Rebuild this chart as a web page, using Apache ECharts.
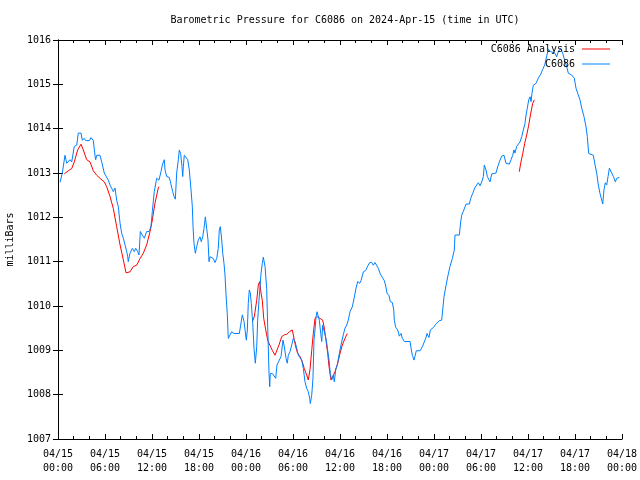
<!DOCTYPE html>
<html>
<head>
<meta charset="utf-8">
<script src="https://cdn.jsdelivr.net/npm/echarts@6/dist/echarts.min.js"></script>
<style>html,body{margin:0;padding:0;background:#fff}#c{width:640px;height:480px}</style>
</head>
<body>
<div id="c"></div>
<script>
const titleText = 'Barometric Pressure for C6086 on 2024-Apr-15 (time in UTC)';
const yName = 'milliBars';
const stationName = 'C6086';
const analysisName = 'C6086 Analysis';

// hours since 2024-04-15 00:00 UTC
const blueHours = [0.26,0.55,0.89,1.11,1.53,1.75,2.08,2.39,2.59,2.94,3.1,3.36,3.54,4.0,4.21,4.51,4.72,4.81,4.94,5.36,5.58,5.91,6.09,6.42,6.64,6.86,7.06,7.28,7.49,7.7,7.92,8.13,8.34,8.55,8.77,8.9,8.97,9.19,9.49,9.74,9.92,10.17,10.34,10.51,10.76,11.02,11.32,11.62,11.87,12.04,12.29,12.6,12.89,13.15,13.32,13.44,13.57,13.66,13.88,14.21,14.39,14.64,14.81,14.98,15.15,15.36,15.49,15.66,15.83,15.92,16.0,16.12,16.34,16.56,16.76,16.98,17.15,17.24,17.36,17.53,17.71,17.91,18.13,18.29,18.47,18.64,18.81,18.98,19.15,19.28,19.4,19.62,19.83,20.04,20.26,20.46,20.59,20.72,20.9,21.03,21.19,21.32,21.45,21.61,21.74,21.96,22.18,22.3,22.47,23.15,23.32,23.53,23.75,23.91,24.04,24.17,24.29,24.42,24.55,24.68,24.86,25.02,25.19,25.37,25.49,25.66,25.92,26.08,26.21,26.43,26.64,26.77,26.94,27.03,27.1,27.36,27.61,27.79,27.96,28.21,28.47,28.72,28.89,29.11,29.27,29.4,29.62,29.84,30.04,30.26,30.47,30.68,30.9,31.11,31.32,31.53,31.75,31.95,32.13,32.21,32.39,32.55,32.68,32.81,32.94,33.07,33.23,33.36,33.54,33.67,33.79,33.96,34.09,34.25,34.43,34.6,34.76,34.94,35.15,35.27,35.45,35.66,35.87,36.13,36.42,36.64,36.86,37.06,37.28,37.57,37.83,38.04,38.26,38.52,38.68,38.98,39.28,39.54,39.79,40.05,40.25,40.47,40.72,40.89,41.15,41.4,41.66,41.84,42.0,42.26,42.42,42.68,42.86,42.93,43.11,43.37,43.57,43.79,43.96,44.21,44.94,45.07,45.23,45.45,45.58,45.74,46.22,46.51,46.76,46.94,47.11,47.36,47.53,47.78,47.96,48.22,48.47,48.68,48.98,49.11,49.28,49.5,49.75,50.04,50.34,50.59,50.68,51.23,51.41,51.54,51.74,51.96,52.09,52.51,52.69,52.94,53.2,53.45,53.66,53.88,54.09,54.3,54.42,54.64,54.81,55.15,55.37,55.57,55.92,56.13,56.34,56.64,56.94,57.19,57.62,57.83,58.05,58.21,58.34,58.55,58.76,58.98,59.2,59.4,59.62,59.75,59.91,60.09,60.26,60.39,60.51,60.68,61.02,61.32,61.63,61.88,62.14,62.39,62.6,62.9,63.15,63.45,63.66,63.87,64.18,64.43,64.73,64.94,65.15,65.58,65.91,66.13,66.42,66.64,66.86,67.15,67.41,67.57,67.75,68.34,68.56,68.77,68.98,69.19,69.41,69.54,69.7,69.87,70.05,70.22,70.39,70.64,70.9,71.15,71.33,71.66];
const blueValues = [1012.79,1013.0,1013.4,1013.22,1013.3,1013.25,1013.6,1013.63,1013.9,1013.9,1013.74,1013.78,1013.73,1013.73,1013.8,1013.73,1013.4,1013.3,1013.4,1013.4,1013.25,1013.0,1013.0,1012.84,1012.73,1012.69,1012.58,1012.66,1012.39,1012.24,1011.87,1011.64,1011.53,1011.38,1011.23,1011.11,1011.0,1011.19,1011.3,1011.23,1011.3,1011.23,1011.15,1011.68,1011.6,1011.53,1011.68,1011.68,1011.79,1012.13,1012.58,1012.88,1012.84,1013.03,1013.18,1013.25,1013.3,1013.07,1012.92,1012.9,1012.77,1012.58,1012.47,1012.41,1013.0,1013.3,1013.52,1013.44,1013.14,1012.92,1013.14,1013.4,1013.37,1013.3,1013.07,1012.62,1012.24,1011.79,1011.41,1011.19,1011.34,1011.49,1011.56,1011.45,1011.56,1011.75,1012.01,1011.75,1011.49,1011.0,1011.11,1011.1,1011.07,1010.98,1011.07,1011.3,1011.71,1011.79,1011.49,1011.19,1010.96,1010.7,1010.25,1009.83,1009.27,1009.27,1009.42,1009.46,1009.38,1009.38,1009.57,1009.8,1009.65,1009.42,1009.23,1009.46,1010.06,1010.36,1010.29,1010.06,1009.61,1009.05,1008.71,1009.08,1009.68,1010.13,1010.74,1010.96,1011.1,1010.89,1010.4,1009.53,1008.48,1008.18,1008.48,1008.48,1008.44,1008.37,1008.67,1008.67,1008.86,1009.23,1009.08,1008.82,1008.71,1008.89,1008.97,1009.12,1009.27,1009.2,1009.05,1008.89,1008.86,1008.78,1008.59,1008.29,1008.14,1008.07,1007.92,1007.8,1007.99,1008.37,1009.23,1009.46,1009.76,1009.87,1009.87,1009.68,1009.38,1009.2,1009.57,1009.61,1009.35,1009.23,1009.0,1008.78,1008.48,1008.33,1008.44,1008.29,1008.56,1008.67,1008.89,1009.12,1009.35,1009.5,1009.57,1009.68,1009.87,1009.98,1010.2,1010.4,1010.55,1010.51,1010.57,1010.77,1010.8,1010.9,1010.98,1010.98,1010.92,1010.98,1010.98,1010.85,1010.72,1010.65,1010.57,1010.45,1010.29,1010.23,1010.1,1010.08,1009.91,1009.68,1009.52,1009.46,1009.32,1009.38,1009.27,1009.2,1009.2,1009.05,1008.89,1008.78,1008.87,1008.99,1008.99,1009.08,1009.12,1009.27,1009.38,1009.29,1009.46,1009.42,1009.52,1009.59,1009.61,1009.67,1009.68,1009.91,1010.21,1010.43,1010.66,1010.89,1011.07,1011.26,1011.6,1011.6,1011.9,1012.05,1012.13,1012.24,1012.3,1012.3,1012.43,1012.54,1012.66,1012.73,1012.78,1012.71,1012.8,1012.92,1013.18,1013.07,1012.92,1012.8,1012.98,1013.0,1013.0,1013.14,1013.25,1013.38,1013.4,1013.22,1013.2,1013.3,1013.4,1013.52,1013.45,1013.6,1013.63,1013.7,1013.82,1013.97,1014.12,1014.31,1014.46,1014.65,1014.72,1014.61,1014.8,1014.98,1015.02,1015.14,1015.23,1015.34,1015.44,1015.64,1015.79,1015.74,1015.77,1015.7,1015.62,1015.74,1015.81,1015.7,1015.51,1015.4,1015.25,1015.21,1015.14,1014.91,1014.76,1014.65,1014.46,1014.27,1014.04,1013.82,1013.44,1013.4,1013.18,1013.0,1012.73,1012.54,1012.39,1012.3,1012.62,1012.78,1012.73,1012.92,1013.11,1013.11,1012.92,1012.8,1012.88,1012.9];

const red1Hours = [0.8,1.31,1.75,2.08,2.51,2.94,3.23,3.66,4.09,4.51,4.94,5.49,5.91,6.22,6.64,7.06,7.49,7.92,8.34,8.68,9.19,9.61,10.05,10.47,10.89,11.32,11.75,12.04,12.38,12.8,12.89];
const red1Values = [1012.98,1013.05,1013.1,1013.25,1013.52,1013.65,1013.52,1013.3,1013.25,1013.05,1012.95,1012.86,1012.8,1012.69,1012.47,1012.2,1011.79,1011.38,1011.04,1010.75,1010.77,1010.89,1010.92,1011.07,1011.19,1011.38,1011.68,1011.94,1012.32,1012.66,1012.69];
const red2Hours = [24.82,25.06,25.37,25.57,25.75,25.92,26.08,26.26,26.52,26.77,27.03,27.36,27.7,27.92,28.21,28.56,28.89,29.2,29.53,29.91,30.13,30.34,30.6,30.9,31.19,31.44,31.75,31.95,32.17,32.39,32.59,32.81,33.07,33.45,33.79,34.0,34.21,34.43,34.6,34.85,35.07,35.36,35.71,36.0,36.3,36.64,36.93];
const red2Values = [1009.65,1009.76,1010.13,1010.47,1010.55,1010.29,1010.13,1009.72,1009.46,1009.23,1009.12,1009.0,1008.89,1008.93,1009.12,1009.31,1009.35,1009.36,1009.42,1009.46,1009.27,1009.08,1008.93,1008.86,1008.74,1008.59,1008.44,1008.33,1008.56,1009.0,1009.38,1009.72,1009.76,1009.72,1009.68,1009.5,1009.23,1008.93,1008.63,1008.33,1008.4,1008.52,1008.71,1008.93,1009.12,1009.27,1009.38];
const red3Hours = [58.89,59.07,59.33,59.58,59.84,60.09,60.35,60.6,60.81];
const red3Values = [1013.03,1013.22,1013.44,1013.67,1013.86,1014.08,1014.35,1014.57,1014.65];

const xMin = 0, xMax = 72, xStep = 6;
const yMin = 1007, yMax = 1016, yStep = 1;
const startDay = 15;

function zip(a, b) { return a.map((v, i) => [v, b[i]]); }
function xLabel(h) {
  const d = startDay + Math.floor(h / 24);
  const hh = h % 24;
  return '04/' + String(d).padStart(2, '0') + '\n' + String(hh).padStart(2, '0') + ':00';
}

const FONT = 'DejaVu Sans Mono';
const blue = '#0080ff', red = '#ff0000';
const chart = echarts.init(document.getElementById('c'), null, { renderer: 'canvas' });
const lineSeries = (name, data, color) => ({
  name, type: 'line', data, showSymbol: false, symbol: 'none',
  lineStyle: { color, width: 1 }, itemStyle: { color },
  xAxisIndex: 0, yAxisIndex: 0, animation: false, z: name === stationName ? 3 : 2
});
const axisCommon = {
  axisLine: { show: true, lineStyle: { color: '#000', width: 1 } },
  splitLine: { show: false }
};
chart.setOption({
  animation: false,
  backgroundColor: '#fff',
  textStyle: { fontFamily: FONT, color: '#000' },
  title: {
    text: titleText, left: 340, top: 10, textAlign: 'center',
    textStyle: { fontFamily: FONT, fontSize: 10, fontWeight: 'normal', color: '#000' }
  },
  legend: [
    { data: [analysisName], right: 30, top: 44, orient: 'vertical', align: 'right',
      icon: 'rect', itemWidth: 28, itemHeight: 1, padding: 0,
      textStyle: { fontFamily: FONT, fontSize: 10, color: '#000', padding: [0, 2, 0, 0] } },
    { data: [stationName], right: 30, top: 59, orient: 'vertical', align: 'right',
      icon: 'rect', itemWidth: 28, itemHeight: 1, padding: 0,
      textStyle: { fontFamily: FONT, fontSize: 10, color: '#000', padding: [0, 2, 0, 0] } }
  ],
  grid: { left: 58, right: 18, top: 40, bottom: 41, containLabel: false, outerBoundsMode: 'none' },
  xAxis: [
    Object.assign({}, axisCommon, {
      type: 'value', min: xMin, max: xMax, interval: xStep, position: 'bottom',
      axisTick: { show: true, inside: true, length: 5, lineStyle: { color: '#000' } },
      minorTick: { show: true, splitNumber: 3, length: 3, lineStyle: { color: '#000' } },
      axisLabel: { formatter: xLabel, fontFamily: FONT, fontSize: 10, color: '#000', margin: 8, lineHeight: 14, hideOverlap: false }
    }),
    Object.assign({}, axisCommon, {
      type: 'value', min: xMin, max: xMax, interval: xStep, position: 'top',
      axisTick: { show: true, inside: true, length: 5, lineStyle: { color: '#000' } },
      minorTick: { show: true, splitNumber: 3, length: 3, lineStyle: { color: '#000' } },
      axisLabel: { show: false }
    })
  ],
  yAxis: [
    Object.assign({}, axisCommon, {
      type: 'value', min: yMin, max: yMax, interval: yStep, position: 'left',
      name: yName, nameLocation: 'middle', nameGap: 43, nameRotate: 90,
      nameTextStyle: { fontFamily: FONT, fontSize: 10, color: '#000' },
      axisTick: { show: true, inside: true, length: 5, lineStyle: { color: '#000' } },
      axisLabel: { formatter: v => String(v), fontFamily: FONT, fontSize: 10, color: '#000', margin: 7 }
    }),
    Object.assign({}, axisCommon, {
      type: 'value', min: yMin, max: yMax, interval: yStep, position: 'right',
      axisTick: { show: true, inside: true, length: 5, lineStyle: { color: '#000' } },
      axisLabel: { show: false }
    })
  ],
  series: [
    lineSeries(analysisName, zip(red1Hours, red1Values), red),
    lineSeries(analysisName, zip(red2Hours, red2Values), red),
    lineSeries(analysisName, zip(red3Hours, red3Values), red),
    lineSeries(stationName, zip(blueHours, blueValues), blue)
  ]
});
</script>
</body>
</html>
